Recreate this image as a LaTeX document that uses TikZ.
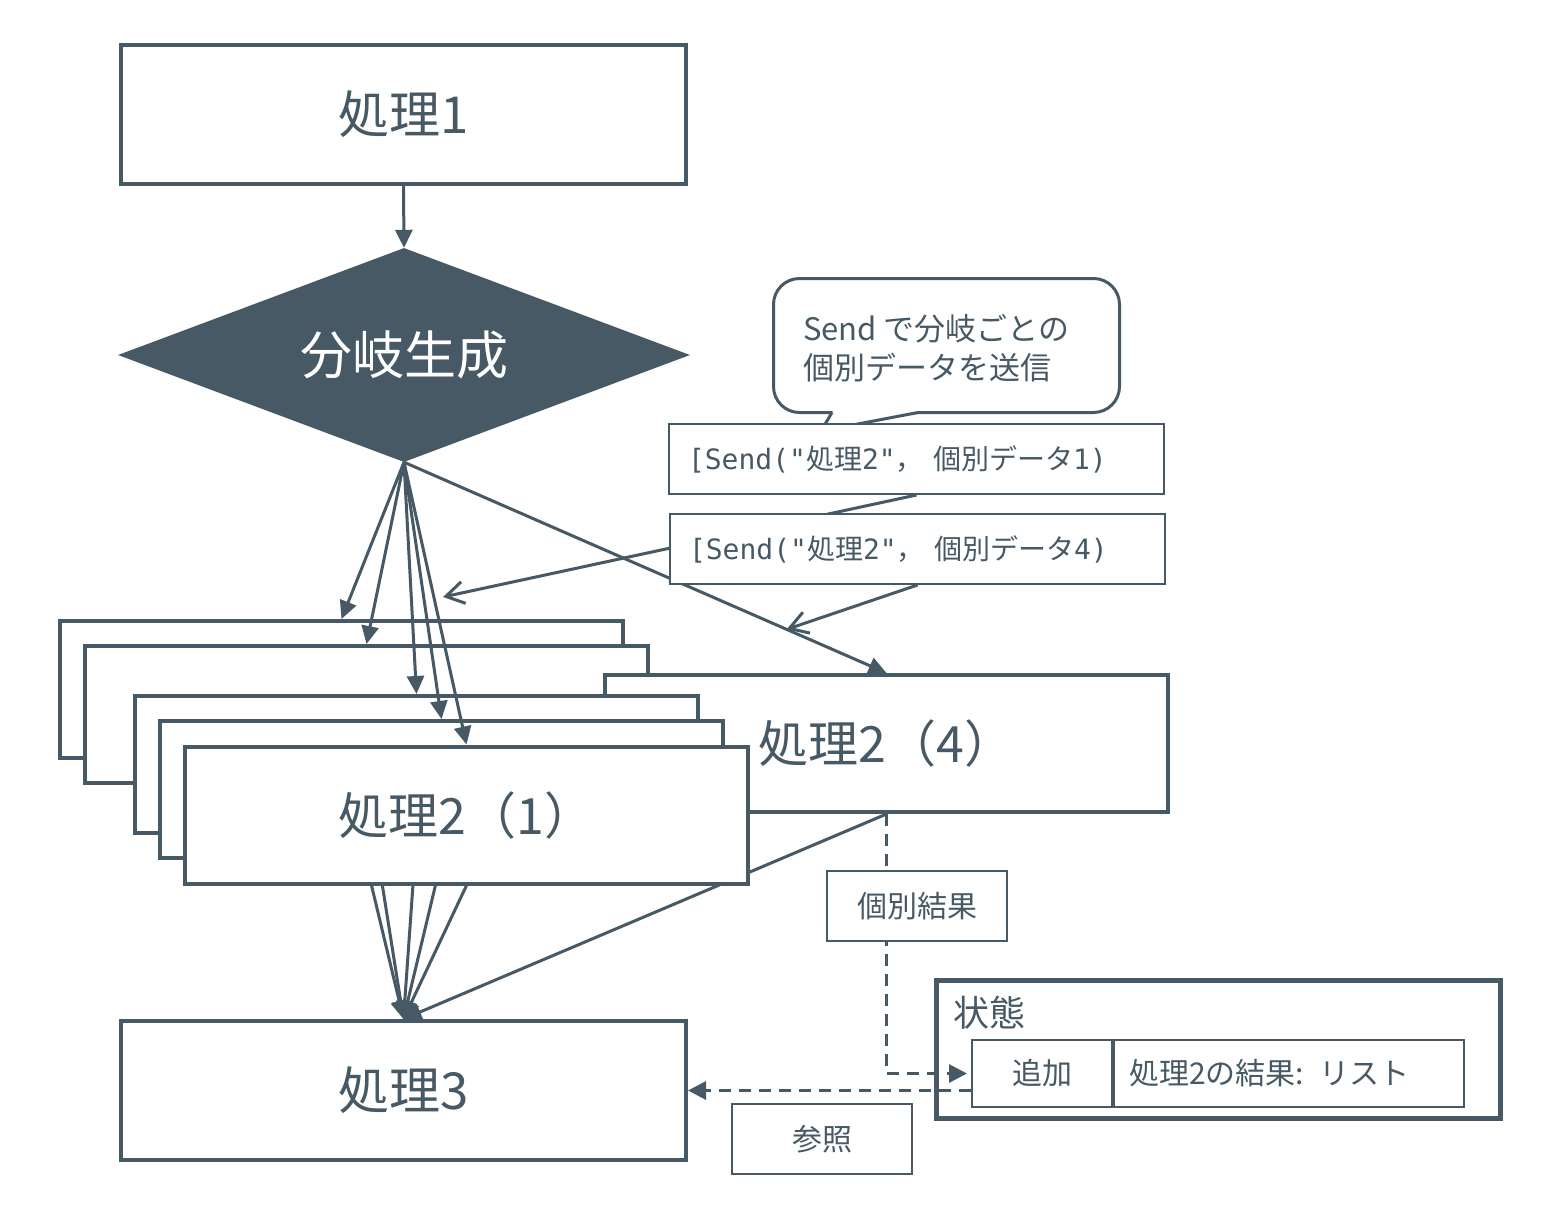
\documentclass[tikz,border=0pt]{standalone}
\usepackage{fontspec}
\setmainfont{Noto Sans CJK JP}
\newfontfamily\mono{DejaVu Sans Mono}
\usetikzlibrary{shapes.geometric,arrows.meta,calc}
\definecolor{ink}{RGB}{71,89,101}
\pgfdeclarelayer{back}
\pgfdeclarelayer{bg}
\pgfsetlayers{back,bg,main}
\begin{document}
\begin{tikzpicture}[x=1pt,y=-1pt,
 every node/.style={text=ink},
 proc/.style={draw=ink,line width=4pt,fill=white,minimum width=563pt,minimum height=137pt,inner sep=0pt,font=\fontsize{50}{58}\selectfont},
 big/.style={proc,minimum width=565pt,minimum height=139pt,font=\fontsize{51}{60}\selectfont},
 conn/.style={draw=ink,line width=3pt,-{Triangle[length=18pt,width=17pt]}},
 ptr/.style={draw=ink,line width=3pt,-{Straight Barb[length=18pt,width=22pt]}},
 dashconn/.style={draw=ink,line width=3pt,dash pattern=on 12pt off 8pt,-{Triangle[length=18pt,width=18pt]}},
 lab/.style={draw=ink,line width=2pt,fill=white,inner sep=0pt,minimum width=180pt,minimum height=70pt,font=\fontsize{30}{36}\selectfont},
 sendlab/.style={draw=ink,line width=2pt,fill=white,inner xsep=19pt,inner ysep=0pt,text width=457pt,minimum height=70pt,align=left,font=\fontsize{28}{34}\selectfont},
]
\useasboundingbox (0,0) rectangle (1559,1205);
\begin{pgfonlayer}{back}
\fill[white] (0,0) rectangle (1559,1205);
\end{pgfonlayer}

% top
\node[big] (p1) at (403.5,114.5) {処理1};
\node[diamond,aspect=2.67,fill=ink,minimum width=572pt,minimum height=214pt,inner sep=0pt,text=white,font=\fontsize{52}{60}\selectfont] (dia) at (404,355) {分岐生成};
\draw[conn] (p1.south) -- (dia.north);

% bottom process
\node[big] (p3) at (403.5,1090.5) {処理3};

% stacked boxes
\node[proc] (bA) at (341.5,689.5) {};
\node[proc] (bB) at (366.5,714.5) {};
\node[proc] (b4) at (886.5,743.5) {処理2（4）};
\node[proc] (bC) at (416.5,764.5) {};
\node[proc] (bD) at (441.5,789.5) {};
\node[proc] (bE) at (466.5,815) {処理2（1）};

% outgoing edges (behind boxes)
\begin{pgfonlayer}{bg}
\foreach \b in {bA,bB,bC,bD,bE,b4}{
  \draw[conn] (\b.south) -- (p3.north);
}
\end{pgfonlayer}

% incoming edges
\foreach \b in {bA,bB,bC,bD,bE,b4}{
  \draw[conn] (dia.south) -- (\b.north);
}

% callout
\draw[draw=ink,line width=3pt,fill=white,rounded corners=26pt] (773.5,278.5) rectangle (1119.5,412.5);
\fill[white] (833,410) -- (917,410) -- (917,414) -- (821,431) -- (832,414) -- cycle;
\draw[ink,line width=3pt] (832,412.5) -- (821,431) -- (918,412.5);
\node[anchor=west,align=left,inner sep=0pt,font=\fontsize{31}{39}\selectfont] (callout) at (803,348) {Send で分岐ごとの\\個別データを送信};

% send labels
\coordinate (tip1) at (443,597);
\coordinate (tip4) at ($(dia.south)!0.793!(b4.north)$);
\node[sendlab] (L1) at (916.5,459) {{\mono [Send("}処理{\mono 2"}，{\mono\ }個別データ{\mono 1)}};
\draw[ptr] (L1.south) -- (tip1);
\node[sendlab] (L4) at (917.5,549) {{\mono [Send("}処理{\mono 2"}，{\mono\ }個別データ{\mono 4)}};
\draw[ptr] (L4.south) -- (tip4);

% state
\node[draw=ink,line width=5pt,fill=white,minimum width=564pt,minimum height=138pt,inner sep=0pt] (state) at (1218.5,1049.5) {};
\node[anchor=west,inner sep=0pt,font=\fontsize{36}{42}\selectfont] (statet) at (953,1013) {状態};
\node[draw=ink,line width=2pt,minimum width=140pt,minimum height=67pt,inner sep=0pt,font=\fontsize{30}{36}\selectfont] (add) at (1042,1073.5) {追加};
\node[draw=ink,line width=2pt,text width=320pt,inner xsep=15pt,inner ysep=0pt,minimum height=67pt,align=left,font=\fontsize{30}{36}\selectfont] (res) at (1289,1073.5) {処理2の結果: リスト};

% dashed flows
\draw[dashconn,shorten >=4pt] (b4.south) |- (add.west);
\draw[dashconn] (add.west |- p3.east) -- (p3.east);
\node[lab] (kres) at (917,906) {個別結果};
\node[lab] (ref) at (822,1139) {参照};
\end{tikzpicture}
\end{document}
